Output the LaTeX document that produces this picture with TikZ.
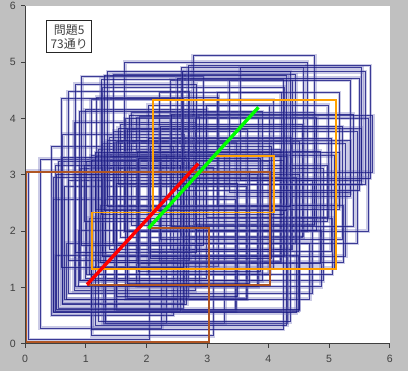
\documentclass[tikz,border=0pt]{standalone}
\usepackage{fontspec}
\setmainfont{Liberation Sans}
\newfontfamily\jpfont{Noto Sans CJK JP}
\usetikzlibrary{positioning}
\definecolor{chartgray}{RGB}{192,192,192}
\definecolor{navyline}{RGB}{24,24,130}
\definecolor{navyband}{RGB}{100,100,180}
\definecolor{orangeline}{RGB}{255,160,0}
\definecolor{brownline}{RGB}{176,86,36}
\newcommand{\linew}{0.55pt}
\newcommand{\bandw}{2.6pt}
\newcommand{\stepx}{0.185}
\newcommand{\stepy}{0.22}

\begin{document}
\begin{tikzpicture}[x=1.52cm,y=1.4075cm]
        \tikzset{
            RectStyle/.style={draw=navyline, line width=\linew, draw opacity=0.8,
                preaction={draw=navyband, line width=\bandw, draw opacity=0.33}},
            AxisStyle/.style={draw=black!75, line width=0.6pt},
            TickLabel/.style={font=\fontsize{7.5}{8}\selectfont, text=black!75, inner sep=1pt},
            PathStyle/.style={line width=1.3pt, line join=miter}
        }
        \begin{scope}
            %\draw[help lines] (0,0) grid (6,6);
            \fill[chartgray] (-0.411,-0.485) rectangle (6.299,6.105);
            \useasboundingbox (-0.411,-0.485) rectangle (6.299,6.105);
            \fill[white] (0,0) rectangle (6,6);

            % x / y / w / h / copies / step factor
            \foreach \x/\y/\w/\h/\n/\s in {
                0.05/0.07/2/3/1/1,
                0.25/0.28/2/3/6/1,
                1.1/0.14/2/3/10/1,
                0.46/0.57/3/2/8/1,
                0.72/0.9/4/2/6/1,
                1.32/0.37/3/3/2/1,
                1.32/0.37/1/3/4/1,
                0.5/0.57/4/1/5/1,
                0.9/1.12/3/3/5/1,
                2.8/2.02/2/2/5/1,
                0.98/2.17/4/1/5/1,
                0.5/0.57/2.05/2.6/3/0.3,
                1.85/1.42/3/2/4/1,
                0.6/1.35/2/3/4/0.6,
                1.1/0.26/3.15/3/3/0.3,
                0.46/0.55/4/2.4/2/0.3,
                1.25/2.3/3/2.4/3/0.3,
                2.5/2.72/3/2/3/0.5,
                1.5/0.85/2/2/4/1}{
                \foreach \k in {1,...,\n}{
                    \draw[RectStyle] ({\x+(\k-1)*\s*\stepx},{\y+(\k-1)*\s*\stepy}) rectangle ++(\w,\h);
                }
            }

            \draw[PathStyle, brownline] (1.02,1.05) -- (4.03,1.05) -- (4.03,3.05) -- (0.02,3.05)
                -- (0.02,0.03) -- (3.03,0.03) -- (3.03,2.05) -- (2.03,2.05);
            \draw[PathStyle, orangeline] (3.1,3.33) -- (4.1,3.33) -- (4.1,2.33) -- (1.1,2.33)
                -- (1.1,1.33) -- (5.12,1.33) -- (5.12,4.33) -- (2.1,4.33) -- (2.1,2.33);
            \draw[line width=2.4pt, red] (1.02,1.05) -- (2.85,3.2);
            \draw[line width=2.4pt, green] (2.03,2.05) -- (3.84,4.2);

            \draw[AxisStyle] (0,6) -- (0,0) -- (6,0);
            \foreach \t in {0,...,6}{
                \draw[AxisStyle] (0,\t) -- (-0.07,\t);
                \draw[AxisStyle] (\t,0) -- (\t,-0.07);
                \node[TickLabel] (yl\t) at (-0.2,\t) {\t};
                \node[TickLabel] (xl\t) at (\t,-0.27) {\t};
            }

            \node[draw=black!85, fill=white, line width=0.6pt, minimum width=1.125cm, minimum height=0.8cm,
                align=center, inner sep=1pt, font=\jpfont\fontsize{8.5}{10}\selectfont, text=black!75]
                (lbl) at (0.727,5.453) {問題5\\73通り};
        \end{scope}
    \end{tikzpicture}
\end{document}
